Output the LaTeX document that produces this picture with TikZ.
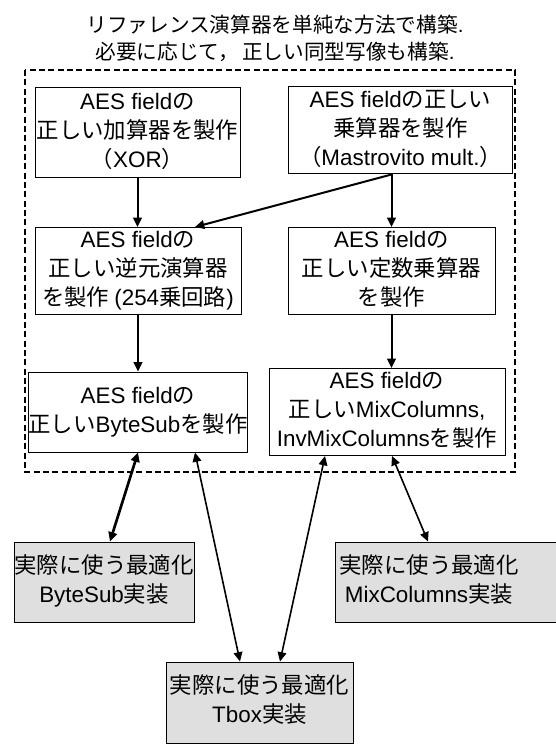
\documentclass[tikz,border=0pt]{standalone}
\usepackage{fontspec}
\setmainfont{Noto Sans CJK JP}
\newfontfamily\enf{Liberation Sans}
\newcommand\en[1]{{\enf #1}}
\newcommand\mlines[2][0pt]{\raisebox{#1}{\begin{tabular}{@{}c@{}}#2\end{tabular}}}
\usetikzlibrary{arrows.meta,calc}
\tikzset{
  box/.style={draw, line width=0.75pt, inner sep=0pt, align=center,
    font=\fontsize{16.8}{21.75}\selectfont},
  implbox/.style={box, fill=gray!25},
  arr/.style={line width=1.5pt, -{Triangle[length=7pt,width=6.5pt]}},
  darr/.style={line width=1.2pt, {Triangle[length=7pt,width=6.5pt]}-{Triangle[length=7pt,width=6.5pt]}},
  frame/.style={line width=1.5pt, dash pattern=on 4.5pt off 2.5pt},
}
\begin{document}
\begin{tikzpicture}[x=0.75pt,y=-0.75pt]
\useasboundingbox (0,0) rectangle (556,745);
% title
\node[align=center, font=\fontsize{15.5}{20.25}\selectfont] (title) at (275,38)
  {リファレンス演算器を単純な方法で構築\en{.}\\必要に応じて，\,正しい同型写像も構築\en{.}};
% dashed frame
\draw[frame] (25,70) rectangle (515,472);
% boxes
\node[box, minimum width=205*0.75pt, minimum height=90*0.75pt] (add) at (137.5,133)
  {\mlines[6pt]{\en{AES field}の\\正しい加算器を製作\\（\en{XOR}）}};
\node[box, minimum width=224*0.75pt, minimum height=85*0.75pt] (mul) at (400.5,130.5)
  {\mlines[4pt]{\en{AES field}の正しい\\乗算器を製作\\（\en{Mastrovito mult.}）}};
\node[box, minimum width=206*0.75pt, minimum height=78*0.75pt] (inv) at (138,271)
  {\mlines[-3pt]{\en{AES field}の\\正しい逆元演算器\\を製作 \en{(254}乗回路\en{)}}};
\node[box, minimum width=207*0.75pt, minimum height=78*0.75pt] (const) at (391.5,271)
  {\mlines[-3pt]{\en{AES field}の\\正しい定数乗算器\\を製作}};
\node[box, minimum width=206*0.75pt, minimum height=80*0.75pt] (bs) at (138,412)
  {\mlines{\en{AES field}の\\正しい\en{ByteSub}を製作}};
\node[box, minimum width=236*0.75pt, minimum height=80*0.75pt] (mix) at (387,412)
  {\mlines{\en{AES field}の\\正しい\en{MixColumns,}\\\en{InvMixColumns}を製作}};
\node[implbox, minimum width=180*0.75pt, minimum height=80*0.75pt] (impl1) at (104,582)
  {\mlines{実際に使う最適化\\\en{ByteSub}実装}};
\node[implbox, minimum width=225*0.75pt, minimum height=80*0.75pt] (impl2) at (447.5,582)
  {\mlines{実際に使う最適化\\\en{MixColumns}実装}\hspace*{27.75pt}};
\node[implbox, minimum width=187*0.75pt, minimum height=81*0.75pt] (tbox) at (259.5,702.5)
  {\mlines{実際に使う最適化\\\en{Tbox}実装}};
% connectors
\draw[arr] (add.south) -- (add.south |- inv.north);
\draw[arr] (mul.south -| const.north) -- (const.north);
\draw[arr] (mul.south -| const.north) -- ($(inv.north)+(57,0)$);
\draw[arr] (inv.south) -- (inv.south |- bs.north);
\draw[arr] (const.south) -- (const.south |- mix.north);
\draw[darr, line width=2pt] (bs.south) -- ($(impl1.north)+(6,0)$);
\draw[darr] ($(bs.south)+(57,0)$) -- ($(tbox.north)+(-19.5,0)$);
\draw[darr] ($(mix.south)+(-62,0)$) -- ($(tbox.north)+(20.5,0)$);
\draw[darr] ($(mix.south)+(5,0)$) -- ($(impl2.north)+(-19.5,0)$);
\end{tikzpicture}
\end{document}
